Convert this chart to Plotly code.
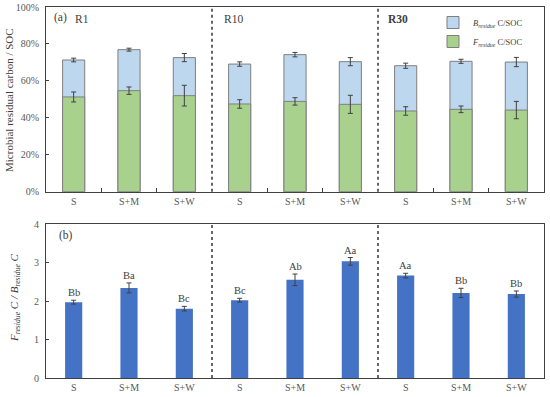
import plotly.graph_objects as go

# ---------------- data ----------------
groups = ["R1", "R10", "R30"]
treatments = ["S", "S+M", "S+W"]
tick_labels = treatments * 3

# panel (a): microbial residual carbon / SOC (fractions)
total_residue = [0.713, 0.769, 0.726, 0.691, 0.742, 0.704, 0.682, 0.706, 0.702]
total_err = [0.010, 0.008, 0.022, 0.012, 0.012, 0.022, 0.014, 0.011, 0.025]
f_residue = [0.513, 0.547, 0.520, 0.475, 0.489, 0.473, 0.437, 0.446, 0.442]
f_err = [0.027, 0.020, 0.056, 0.023, 0.020, 0.049, 0.023, 0.018, 0.047]

# panel (b): F residue C / B residue C
ratio = [1.97, 2.34, 1.80, 2.02, 2.55, 3.03, 2.66, 2.21, 2.18]
ratio_err = [0.05, 0.13, 0.06, 0.05, 0.15, 0.10, 0.06, 0.12, 0.08]
sig_labels = ["Bb", "Ba", "Bc", "Bc", "Ab", "Aa", "Aa", "Bb", "Bb"]

xpos = list(range(len(tick_labels)))

# ---------------- layout helpers ----------------
W, H = 550, 397
ML, MR, MT, MB = 46, 6, 7, 19
PW, PH = W - ML - MR, H - MT - MB


def xp(px):
    return (px - ML) / PW


def yp(py):
    return (H - MB - py) / PH


FONT = "Liberation Serif"
GREY = "#404040"

fig = go.Figure()

fig.add_trace(go.Bar(
    x=xpos, y=total_residue, width=0.4,
    marker=dict(color="#BDD7EE", line=dict(color="#7F7F7F", width=1)),
    error_y=dict(type="data", array=total_err, color=GREY, thickness=1, width=2.5),
    name="<i>B</i><sub><i>residue</i></sub> C/SOC",
    xaxis="x", yaxis="y",
))
fig.add_trace(go.Bar(
    x=xpos, y=f_residue, width=0.4,
    marker=dict(color="#A9D18E", line=dict(color="#7F7F7F", width=1)),
    error_y=dict(type="data", array=f_err, color=GREY, thickness=1, width=2.5),
    name="<i>F</i><sub><i>residue</i></sub> C/SOC",
    xaxis="x", yaxis="y",
))
fig.add_trace(go.Bar(
    x=xpos, y=ratio, width=0.31,
    marker=dict(color="#4472C4", line=dict(width=0)),
    error_y=dict(type="data", array=ratio_err, color=GREY, thickness=1, width=2.5),
    showlegend=False,
    xaxis="x2", yaxis="y2",
))

top_bottom = yp(191.7)
bot_top = yp(224)

axis_common = dict(
    showline=True, linecolor=GREY, linewidth=1, mirror=True,
    showgrid=False, zeroline=False, automargin=False,
    tickfont=dict(family=FONT, size=10, color="#595959"),
)

fig.update_layout(
    width=W, height=H,
    margin=dict(l=ML, r=MR, t=MT, b=MB, autoexpand=False),
    paper_bgcolor="white", plot_bgcolor="white",
    barmode="overlay",
    font=dict(family=FONT, color="#404040"),
    xaxis=dict(
        domain=[0, 1], anchor="y", range=[-0.5, 8.5],
        tickvals=xpos, ticktext=tick_labels, ticks="",
        minor=dict(tickvals=[0.5, 1.5, 3.5, 4.5, 6.5, 7.5], ticks="inside",
                   ticklen=4, tickcolor=GREY, tickwidth=1),
        **axis_common,
    ),
    yaxis=dict(
        domain=[top_bottom, 1], anchor="x", range=[0, 1],
        tickvals=[0, 0.2, 0.4, 0.6, 0.8, 1.0], tickformat=".0%",
        ticks="inside", ticklen=3, tickcolor=GREY, ticklabelstandoff=4,
        **axis_common,
    ),
    xaxis2=dict(
        domain=[0, 1], anchor="y2", range=[-0.5, 8.5],
        tickvals=xpos, ticktext=tick_labels, ticks="",
        **axis_common,
    ),
    yaxis2=dict(
        domain=[0, bot_top], anchor="x2", range=[0, 4],
        tickvals=[0, 1, 2, 3, 4],
        ticks="inside", ticklen=3, tickcolor=GREY, ticklabelstandoff=4,
        **axis_common,
    ),
    legend=dict(
        x=xp(433), y=yp(8), xanchor="left", yanchor="top",
        font=dict(family=FONT, size=8.5, color="#404040"),
        bgcolor="rgba(0,0,0,0)", itemwidth=30, tracegroupgap=0,
    ),
    showlegend=True,
)

# dashed separators between groups
shapes = []
for xs in [2.5, 5.5]:
    shapes.append(dict(type="line", xref="x", yref="y domain", x0=xs, x1=xs, y0=0, y1=1,
                       line=dict(color="black", width=1.2, dash="dot")))
    shapes.append(dict(type="line", xref="x2", yref="y2 domain", x0=xs, x1=xs, y0=0, y1=1,
                       line=dict(color="black", width=1.2, dash="dot")))
fig.update_layout(shapes=shapes)

ann = []
# panel labels
ann.append(dict(text="(a)", x=xp(51.5), y=yp(18), xref="paper", yref="paper",
                xanchor="left", yanchor="middle", showarrow=False,
                font=dict(family=FONT, size=11.5, color="#404040")))
group_px = [72.5, 221.5, 386]
for g, gx in zip(groups, group_px):
    txt = "<b>%s</b>" % g if g == "R30" else g
    ann.append(dict(text=txt, x=xp(gx), y=yp(19), xref="paper", yref="paper",
                    xanchor="left", yanchor="middle", showarrow=False,
                    font=dict(family=FONT, size=11.5, color="#404040")))
ann.append(dict(text="(b)", x=xp(56.5), y=yp(235), xref="paper", yref="paper",
                xanchor="left", yanchor="middle", showarrow=False,
                font=dict(family=FONT, size=11.5, color="#404040")))

# y-axis titles
ann.append(dict(text="Microbial residual carbon / SOC", x=xp(9), y=yp(100),
                xref="paper", yref="paper", textangle=-90, showarrow=False,
                xanchor="center", yanchor="middle",
                font=dict(family=FONT, size=11, color="#404040")))
ann.append(dict(text="<i>F</i><sub><i>residue</i></sub><i> C / B</i><sub><i>residue</i></sub><i> C</i>",
                x=xp(15), y=yp(298),
                xref="paper", yref="paper", textangle=-90, showarrow=False,
                xanchor="center", yanchor="middle",
                font=dict(family=FONT, size=11, color="#404040")))

# significance letters
for xi, v, e, lab in zip(xpos, ratio, ratio_err, sig_labels):
    ann.append(dict(text=lab, x=xi, y=v + e, xref="x2", yref="y2",
                    xanchor="center", yanchor="bottom", yshift=0, showarrow=False,
                    font=dict(family=FONT, size=10.5, color="#404040")))

fig.update_layout(annotations=ann)

fig.write_html(
    "out.html",
    config={"displayModeBar": False},
    post_script="document.body.style.margin='0';document.body.style.overflow='hidden';",
)
